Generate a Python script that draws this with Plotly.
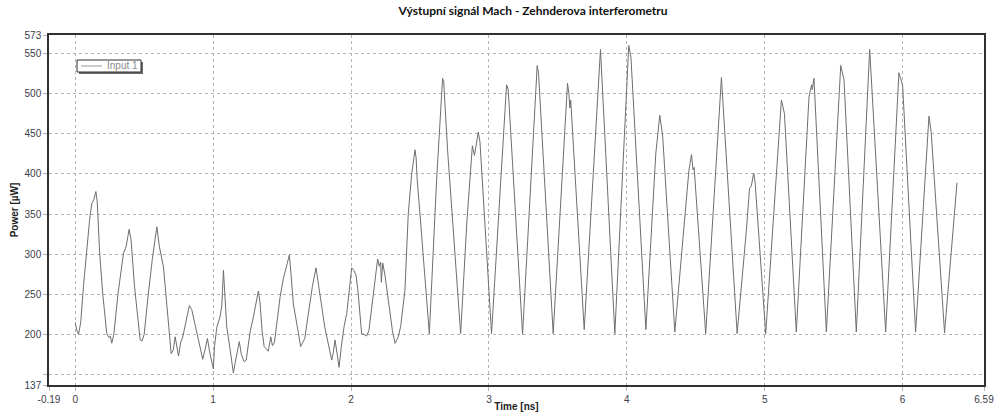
import plotly.graph_objects as go

# ---- data ----
SERIES_NAME = "Input 1"
TITLE = "Výstupní signál Mach - Zehnderova interferometru"
X_TITLE = "Time [ns]"
Y_TITLE = "Power [µW]"

time_ns = [
    0.000, 0.012, 0.024, 0.040, 0.060, 0.085, 0.104, 0.120, 0.135, 0.150, 0.160, 0.176, 0.200,
    0.229, 0.245, 0.255, 0.265, 0.280, 0.310, 0.350, 0.370, 0.391, 0.405, 0.430, 0.460, 0.471,
    0.485, 0.500, 0.530, 0.560, 0.592, 0.610, 0.640, 0.664, 0.696, 0.710, 0.725, 0.749, 0.765,
    0.780, 0.800, 0.828, 0.845, 0.862, 0.882, 0.900, 0.925, 0.940, 0.959, 0.975, 1.002, 1.010,
    1.027, 1.050, 1.063, 1.075, 1.085, 1.099, 1.120, 1.147, 1.160, 1.190, 1.205, 1.225, 1.240,
    1.255, 1.268, 1.290, 1.310, 1.328, 1.340, 1.355, 1.370, 1.400, 1.418, 1.430, 1.445, 1.465,
    1.486, 1.510, 1.530, 1.553, 1.565, 1.582, 1.610, 1.635, 1.650, 1.665, 1.690, 1.720, 1.746,
    1.760, 1.775, 1.790, 1.810, 1.835, 1.860, 1.872, 1.884, 1.900, 1.913, 1.930, 1.950, 1.969,
    1.985, 2.005, 2.020, 2.036, 2.050, 2.077, 2.095, 2.113, 2.130, 2.160, 2.180, 2.193, 2.205,
    2.215, 2.220, 2.230, 2.246, 2.265, 2.283, 2.300, 2.319, 2.330, 2.343, 2.360, 2.380, 2.391,
    2.405, 2.415, 2.440, 2.464, 2.472, 2.480, 2.500, 2.568, 2.620, 2.655, 2.664, 2.672, 2.700,
    2.795, 2.840, 2.880, 2.895, 2.923, 2.935, 3.019, 3.128, 3.140, 3.244, 3.350, 3.360, 3.466,
    3.570, 3.580, 3.587, 3.593, 3.691, 3.809, 3.913, 4.014, 4.025, 4.030, 4.138, 4.210, 4.239,
    4.260, 4.348, 4.450, 4.469, 4.480, 4.488, 4.572, 4.686, 4.800, 4.867, 4.890, 4.903, 4.920,
    4.930, 5.007, 5.121, 5.143, 5.229, 5.321, 5.340, 5.345, 5.357, 5.447, 5.551, 5.575, 5.664,
    5.761, 5.877, 5.973, 6.000, 6.094, 6.191, 6.207, 6.304, 6.394,
]

power_uw = [
    215, 205, 200, 215, 260, 310, 342, 363, 368, 378, 365, 305, 250,
    201, 196, 198, 189, 200, 250, 301, 310, 331, 318, 260, 205, 193,
    192, 200, 250, 295, 334, 310, 284, 234, 176, 180, 197, 173, 190,
    197, 212, 236, 231, 218, 203, 190, 169, 180, 195, 178, 157, 185,
    209, 222, 236, 280, 250, 209, 185, 152, 165, 191, 175, 166, 168,
    190, 203, 220, 240, 254, 240, 205, 185, 179, 197, 186, 190, 220,
    247, 270, 285, 299, 275, 238, 210, 185, 190, 195, 225, 260, 283,
    265, 247, 232, 209, 190, 168, 178, 193, 175, 159, 185, 210, 226,
    250, 283, 280, 274, 255, 201, 200, 198, 205, 245, 275, 294, 285,
    290, 265, 289, 274, 250, 232, 205, 189, 192, 197, 210, 235, 255,
    310, 350, 400, 430, 420, 392, 350, 201, 390, 505, 519, 515, 430,
    201, 340, 435, 423, 452, 440, 201, 511, 505, 200, 535, 525, 201,
    513, 500, 482, 492, 206, 555, 201, 560, 550, 545, 206, 425, 473,
    447, 203, 404, 424, 405, 408, 201, 520, 201, 330, 382, 385, 401,
    390, 201, 492, 475, 203, 496, 511, 505, 519, 203, 535, 517, 203,
    555, 203, 526, 510, 203, 472, 452, 202, 389,
]

x_tick_vals = [-0.19, 0, 1, 2, 3, 4, 5, 6, 6.59]
x_tick_text = ["-0.19", "0", "1", "2", "3", "4", "5", "6", "6.59"]
y_tick_vals = [137, 150, 200, 250, 300, 350, 400, 450, 500, 550, 573]
y_tick_text = ["137", "", "200", "250", "300", "350", "400", "450", "500", "550", "573"]
x_range = [-0.19, 6.59]
y_range = [137, 573]

# ---- layout geometry ----
W, H = 995, 412
ML, MR, MT, MB = 49, 11, 35, 27
PW, PH = W - ML - MR, H - MT - MB


def px_x(px):
    return (px - ML) / PW


def px_y(py):
    return (H - MB - py) / PH


LINE_COLOR = "#6e6e6e"
GRID_COLOR = "#b4b4b4"
AXIS_COLOR = "#303030"
TICK_FONT = dict(family="Liberation Sans, Arial, sans-serif", size=10, color="#3c3c4a")

fig = go.Figure()
fig.add_trace(go.Scatter(
    x=time_ns, y=power_uw, mode="lines", name=SERIES_NAME,
    line=dict(color=LINE_COLOR, width=1), showlegend=False,
))

# legend (drawn as a framed box with drop shadow like the original)
lx0, ly0, lx1, ly1 = 77, 60, 141, 72
shapes = [
    dict(type="rect", xref="paper", yref="paper",
         x0=px_x(lx0 + 2), x1=px_x(lx1 + 2), y0=px_y(ly0 + 2), y1=px_y(ly1 + 2),
         fillcolor="#6a6a6a", line=dict(width=0), layer="above"),
    dict(type="rect", xref="paper", yref="paper",
         x0=px_x(lx0), x1=px_x(lx1), y0=px_y(ly0), y1=px_y(ly1),
         fillcolor="white", line=dict(color="#303030", width=1), layer="above"),
    dict(type="line", xref="paper", yref="paper",
         x0=px_x(81), x1=px_x(102), y0=px_y(66), y1=px_y(66),
         line=dict(color="#9a9a9a", width=1), layer="above"),
]
annotations = [
    dict(text=SERIES_NAME, xref="paper", yref="paper", x=px_x(105), y=px_y(66),
         xanchor="left", yanchor="middle", showarrow=False,
         font=dict(family="Liberation Sans, Arial, sans-serif", size=10, color="#8a8a8a")),
]

fig.update_layout(
    width=W, height=H,
    margin=dict(l=ML, r=MR, t=MT, b=MB, pad=0),
    paper_bgcolor="white", plot_bgcolor="white",
    title=dict(text=TITLE, x=533 / W, xanchor="center", xref="container",
               y=1 - 11 / H, yanchor="middle", yref="container",
               font=dict(family="Lato, Noto Sans, sans-serif", size=12, color="#111111",
                         weight="bold")),
    shapes=shapes, annotations=annotations,
    showlegend=False,
)

fig.update_xaxes(
    range=x_range, tickvals=x_tick_vals, ticktext=x_tick_text,
    showgrid=True, gridcolor=GRID_COLOR, griddash="dot", gridwidth=1,
    zeroline=False, showline=True, linecolor=AXIS_COLOR, linewidth=1.5, mirror=True,
    ticks="outside", ticklen=4, tickcolor=GRID_COLOR, tickfont=TICK_FONT,
    title=dict(text=X_TITLE, standoff=0,
               font=dict(family="Liberation Sans, Arial, sans-serif", size=10,
                         color="#222222", weight="bold")),
    automargin=False,
)
fig.update_yaxes(
    range=y_range, tickvals=y_tick_vals, ticktext=y_tick_text,
    showgrid=True, gridcolor=GRID_COLOR, griddash="dot", gridwidth=1,
    zeroline=False, showline=True, linecolor=AXIS_COLOR, linewidth=1.5, mirror=True,
    ticks="outside", ticklen=4, tickcolor=GRID_COLOR, tickfont=TICK_FONT,
    title=dict(text=Y_TITLE, standoff=4,
               font=dict(family="Liberation Sans, Arial, sans-serif", size=10,
                         color="#222222", weight="bold")),
    automargin=False,
)

fig.write_html("out.html")
